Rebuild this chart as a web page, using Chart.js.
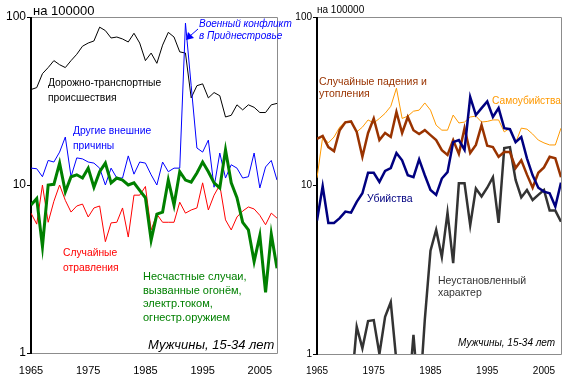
<!DOCTYPE html>
<html><head><meta charset="utf-8">
<script src="https://cdn.jsdelivr.net/npm/chart.js@4.4.1/dist/chart.umd.min.js"></script>
<style>
html,body{margin:0;padding:0;background:#fff;width:570px;height:380px;overflow:hidden;}
#cl{position:absolute;left:0;top:0;}
#cr{position:absolute;left:285px;top:0;}
</style></head><body>
<canvas id="cl" width="300" height="380"></canvas>
<canvas id="cr" width="285" height="380"></canvas>
<script>
// ---------- data ----------
const years = [1965,1966,1967,1968,1969,1970,1971,1972,1973,1974,
  1975,1976,1977,1978,1979,1980,1981,1982,1983,1984,
  1985,1986,1987,1988,1989,1990,1991,1992,1993,1994,
  1995,1996,1997,1998,1999,2000,2001,2002,2003,2004,
  2005,2006,2007,2008];
const xTicks = [1965,1975,1985,1995,2005];
const yTicks = [1,10,100];

// left panel
const roadTraffic = [37,38,46,50,55,52,50,55,60,67, 70,72,87,83,75,76,74,71,80,70,
  55,61,53,68,81,76,62,61,33,39, 40,33,35.5,34,25.4,26,30,28,30,29, 27,27,30,30.6];
const otherExternal = [12.6,12.5,11.2,14,13.7,15.7,19.3,11.2,14.5,14.3, 13.7,13.5,12.6,10,12.6,11,11,14.9,11.6,13.7,
  13.5,11.5,10,13.7,12,12.6,12.6,92,39,16.6, 15.7,18.5,9.7,15.5,11,13.2,12.6,11,11.2,15.5, 9.6,12.8,14,10.7];
const poisoning = [6.8,5.85,10,6,8,10,8.1,6.9,7.5,7.7, 6.45,7.3,7.5,4.6,5.95,6,7.3,4.9,8.7,8.7,
  9.8,5.4,6.7,6,6,6,7.9,6.8,7.1,7.3, 10.3,7.1,8.7,10,6.2,5.4,6.45,7,7.4,7.2, 6.6,5.8,6.8,6.35];
const fireElectricGuns = [7.6,8.3,4.3,10,10.1,13.5,9.1,11.2,11.5,11, 12.6,9.7,12,13.5,10.3,11,10.7,10,10.3,9.3,
  8.4,4.7,6.7,6.9,10.7,7.6,12,10.7,10.4,11.8, 13.7,12,10.3,9.6,16.2,10.3,8.4,6,5.4,3.5, 5,2.3,5.1,3.2];

// right panel
const suicides = [11.1,19.4,17.9,19.4,22.2,24,23.8,20.8,22.2,24.5, 23.5,25,26.8,29.5,37.8,25,25.8,27.6,28,30.9,
  28,22.8,21.3,21.3,26.2,23.5,23.8,25.5,25.8,23.8, 24,24.5,24.5,20.8,21.9,17.9,21.9,21.6,20.2,18.6, 17.9,17.4,17.4,21.9];
const fallsDrowning = [18.9,19.7,16.9,16,21.3,23.7,24,20.8,14.8,20.5, 25,18.6,20.5,19.4,27.3,20.5,25.5,21.3,20.2,21.3,
  19.9,18.6,16.2,15.2,18.6,15.4,21.9,15.6,17.4,22.8, 17.2,16.9,14.8,15.8,15.8,12.7,14.1,11.6,9.7,11.9, 12.8,14.8,14.5,11.2];
const homicides = [6.2,9.9,6,6,6.4,7,6.9,8,9,11.9, 11.9,10.5,12.2,12.7,15.6,14.1,11.5,11.2,14.3,11.5,
  9.4,8.8,11,12,18.1,18.6,16.3,33.5,26.2,28.8, 31.5,25.5,28.8,21.9,21.6,18.1,19.4,14.5,11.5,9.7, 9.2,9,7.5,10.4];
const undetermined = [null,null,null,null,null,null,0.6,1.45,1.08,1.57, 1.59,1.0,1.66,2.03,0.9,0.4,0.5,1.3,0.5,1.6,
  4.1,5.45,3.76,6.9,3.46,10.3,10.3,5.8,9.6,8.6, 9.7,11.2,6,16.7,16.9,10.8,8.5,9.4,8.2,8.8, 9.4,7.1,7.1,6.1];

// ---------- helpers ----------
const FONT = "'Liberation Sans', Arial, sans-serif";
const pts = arr => arr.map((v,i)=>({x:years[i], y:v}));

const framePlugin = {
  id:'frame',
  beforeDatasetsDraw(chart){
    const {ctx, chartArea:a} = chart;
    ctx.save();
    ctx.strokeStyle = '#8c8c8c'; ctx.lineWidth = 1;
    ctx.beginPath();
    ctx.moveTo(a.left, a.top+0.5); ctx.lineTo(a.right+0.5, a.top+0.5);
    ctx.lineTo(a.right+0.5, a.bottom+0.5); ctx.lineTo(a.left, a.bottom+0.5);
    ctx.stroke();
    ctx.strokeStyle = '#000'; ctx.lineWidth = 2;
    ctx.beginPath(); ctx.moveTo(a.left, a.top); ctx.lineTo(a.left, a.bottom+1); ctx.stroke();
    ctx.restore();
  }
};

function textPlugin(items, extra){
  return {
    id:'texts',
    afterDraw(chart){
      const ctx = chart.ctx;
      ctx.save();
      ctx.textBaseline = 'alphabetic';
      ctx.textAlign = 'left';
      for (const it of items){
        ctx.font = it.f;
        ctx.fillStyle = it.c;
        ctx.fillText(it.t, it.x, it.y);
      }
      if (extra) extra(ctx);
      ctx.restore();
    }
  };
}

function makeOptions(pad, yW, xH, tickFont, yTickFont){
  return {
    responsive:false, animation:false,
    layout:{padding:pad},
    plugins:{legend:{display:false}, tooltip:{enabled:false}},
    elements:{point:{radius:0}, line:{tension:0}},
    scales:{
      x:{type:'linear', min:1965, max:2008,
        afterBuildTicks: s => { s.ticks = xTicks.map(v=>({value:v})); },
        afterFit: s => { s.height = xH; },
        grid:{display:false}, border:{display:false},
        ticks:{callback:v=>String(v), color:'#000', font:{family:FONT, size:tickFont}, padding:3, maxRotation:0, autoSkip:false}
      },
      y:{type:'logarithmic', min:1, max:100,
        afterBuildTicks: s => { s.ticks = yTicks.map(v=>({value:v})); },
        afterFit: s => { s.width = yW; },
        grid:{display:true, drawOnChartArea:false, drawTicks:true, tickLength:4, color:'#000'},
        border:{display:false},
        ticks:{callback:v=>String(v), color:'#000', font:{family:FONT, size:yTickFont}, padding:1, autoSkip:false}
      }
    }
  };
}

// ---------- left chart ----------
const leftTexts = [
  {t:'на 100000', x:33, y:15, f:`13px ${FONT}`, c:'#000'},
  {t:'Дорожно-транспортные', x:48, y:86, f:`10.3px ${FONT}`, c:'#000'},
  {t:'происшествия', x:48, y:101, f:`10.3px ${FONT}`, c:'#000'},
  {t:'Военный конфликт', x:199, y:27, f:`italic 10px ${FONT}`, c:'#0000ff'},
  {t:'в Приднестровье', x:199, y:39, f:`italic 10px ${FONT}`, c:'#0000ff'},
  {t:'Другие внешние', x:73, y:134, f:`10.3px ${FONT}`, c:'#0000ff'},
  {t:'причины', x:73, y:149, f:`10.3px ${FONT}`, c:'#0000ff'},
  {t:'Случайные', x:63, y:256, f:`10.3px ${FONT}`, c:'#ff0000'},
  {t:'отравления', x:63, y:271, f:`10.3px ${FONT}`, c:'#ff0000'},
  {t:'Несчастные случаи,', x:143, y:280, f:`11px ${FONT}`, c:'#008000'},
  {t:'вызванные огонём,', x:143, y:294, f:`11px ${FONT}`, c:'#008000'},
  {t:'электр.током,', x:143, y:307, f:`11px ${FONT}`, c:'#008000'},
  {t:'огнестр.оружием', x:143, y:321, f:`11px ${FONT}`, c:'#008000'},
  {t:'Мужчины, 15-34 лет', x:148, y:349, f:`italic 13px ${FONT}`, c:'#000'}
];
function drawArrow(ctx){
  ctx.strokeStyle = '#0000ff'; ctx.fillStyle = '#0000ff'; ctx.lineWidth = 1;
  ctx.beginPath(); ctx.moveTo(198,29); ctx.lineTo(190,36); ctx.stroke();
  ctx.beginPath(); ctx.moveTo(186,40); ctx.lineTo(188,32); ctx.lineTo(194,38); ctx.closePath(); ctx.fill();
}
new Chart(document.getElementById('cl'), {
  type:'line',
  data:{datasets:[
    {data:pts(fireElectricGuns), borderColor:'#008000', borderWidth:3},
    {data:pts(poisoning), borderColor:'#ff0000', borderWidth:1},
    {data:pts(otherExternal), borderColor:'#0000ff', borderWidth:1},
    {data:pts(roadTraffic), borderColor:'#000000', borderWidth:1}
  ]},
  options: makeOptions({top:17, right:23, left:0, bottom:0}, 31, 27, 11, 12),
  plugins:[framePlugin, textPlugin(leftTexts, drawArrow)]
});

// ---------- right chart ----------
const rightTexts = [
  {t:'на 100000', x:32, y:13, f:`10px ${FONT}`, c:'#000'},
  {t:'Случайные падения и', x:34, y:85, f:`10.5px ${FONT}`, c:'#993300'},
  {t:'утопления', x:34, y:97, f:`10.5px ${FONT}`, c:'#993300'},
  {t:'Самоубийства', x:207, y:104, f:`10.2px ${FONT}`, c:'#ff9900'},
  {t:'Убийства', x:82, y:202, f:`10.5px ${FONT}`, c:'#000080'},
  {t:'Неустановленный', x:153, y:284, f:`10.5px ${FONT}`, c:'#333333'},
  {t:'характер', x:153, y:296, f:`10.5px ${FONT}`, c:'#333333'},
  {t:'Мужчины, 15-34 лет', x:173, y:346, f:`italic 10px ${FONT}`, c:'#000'}
];
new Chart(document.getElementById('cr'), {
  type:'line',
  data:{datasets:[
    {data:pts(homicides), borderColor:'#000080', borderWidth:2.5},
    {data:pts(fallsDrowning), borderColor:'#993300', borderWidth:2.5},
    {data:pts(undetermined), borderColor:'#333333', borderWidth:2.5, spanGaps:false},
    {data:pts(suicides), borderColor:'#ff9900', borderWidth:1}
  ]},
  options: makeOptions({top:17, right:9, left:0, bottom:0}, 32, 26, 10, 10),
  plugins:[framePlugin, textPlugin(rightTexts)]
});
</script>
</body></html>
